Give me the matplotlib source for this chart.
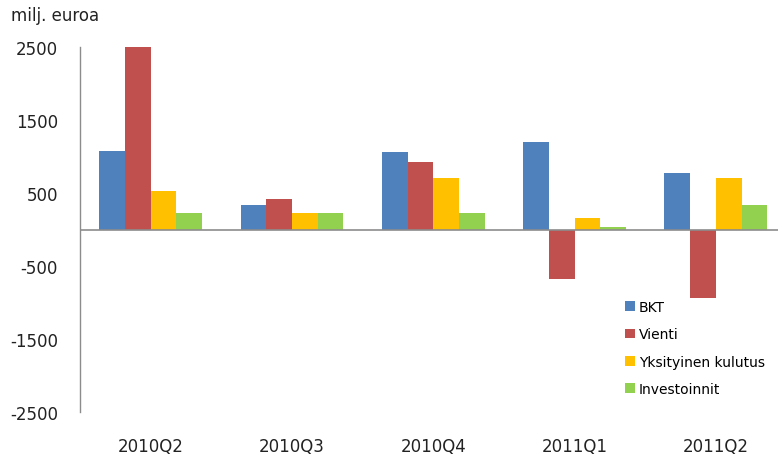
import numpy as np
import matplotlib.pyplot as plt

plt.rcParams["axes.unicode_minus"] = False

# data (milj. euroa)
quarters = ["2010Q2", "2010Q3", "2010Q4", "2011Q1", "2011Q2"]
bkt = [1080, 335, 1060, 1195, 775]
vienti = [2495, 420, 930, -680, -940]
yksityinen = [530, 222, 708, 160, 708]
investoinnit = [222, 222, 225, 33, 338]

series_names = ["BKT", "Vienti", "Yksityinen kulutus", "Investoinnit"]
colors = ["#4F81BD", "#C0504D", "#FFC000", "#92D050"]

fig = plt.figure(figsize=(7.78, 4.56), dpi=100)
ax = fig.add_axes([80 / 778, 1 - 413 / 456, 1 - 80 / 778, 365 / 456])

x = np.arange(len(quarters))
w = 0.182
for i, (vals, name, c) in enumerate(zip([bkt, vienti, yksityinen, investoinnit], series_names, colors)):
    ax.bar(x + (i - 1.5) * w, vals, width=w, color=c, label=name, zorder=2)

ax.axhline(0, color="#8c8c8c", linewidth=1.2, zorder=3)

ax.set_xlim(-0.5, 4.44)
ax.set_ylim(-2500, 2500)
ax.set_yticks([-2500, -1500, -500, 500, 1500, 2500])
ax.set_xticks(x)
ax.set_xticklabels(quarters)
ax.tick_params(axis="both", length=0, labelsize=12, colors="#222222")
ax.tick_params(axis="y", pad=16)
ax.tick_params(axis="x", pad=18)

for s in ["top", "right", "bottom"]:
    ax.spines[s].set_visible(False)
ax.spines["left"].set_color("#8c8c8c")
ax.spines["left"].set_linewidth(1.0)

fig.text(11 / 778, 1 - 16 / 456, "milj. euroa", fontsize=12, color="#222222", va="center", ha="left")

leg = fig.legend(loc="center left", bbox_to_anchor=(618 / 778, 1 - 349 / 456), frameon=False,
                 fontsize=10, handlelength=0.7, handleheight=0.7, handletextpad=0.3,
                 labelspacing=0.95, borderpad=0)

fig.savefig("out.png", dpi=100)
